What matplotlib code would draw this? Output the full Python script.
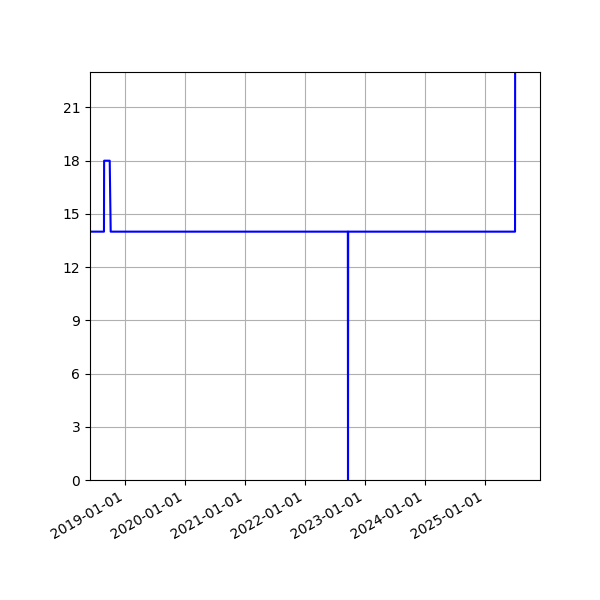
import numpy as np
import pandas as pd
import matplotlib
matplotlib.use('Agg')
from matplotlib import pyplot as plt
import matplotlib.dates as mdates

# readings (date, value)
dates = ['2018-06-01', '2018-08-25', '2018-08-26', '2018-09-29', '2018-10-05',
         '2022-09-18', '2022-09-19', '2022-09-20', '2025-07-02', '2025-07-03',
         '2025-12-01']
values = [14, 14, 18, 18, 14, 14, 0, 14, 14, 30, 30]
yticks = [0, 3, 6, 9, 12, 15, 18, 21]

x = pd.to_datetime(dates)

fig = plt.figure(figsize=(6, 6), dpi=100)
ax = fig.add_axes([0.15, 0.2, 0.75, 0.68])
ax.plot(x, values, color='blue', linewidth=1.5)
ax.set_xlim(pd.Timestamp('2018-06-01'), pd.Timestamp('2025-12-01'))
ax.set_ylim(0, 23)
ax.set_yticks(yticks)
ax.xaxis.set_major_locator(mdates.YearLocator())
ax.xaxis.set_major_formatter(mdates.DateFormatter('%Y-%m-%d'))
for lbl in ax.get_xticklabels():
    lbl.set_rotation(30)
    lbl.set_ha('right')
ax.grid(True)
fig.savefig('out.png')
